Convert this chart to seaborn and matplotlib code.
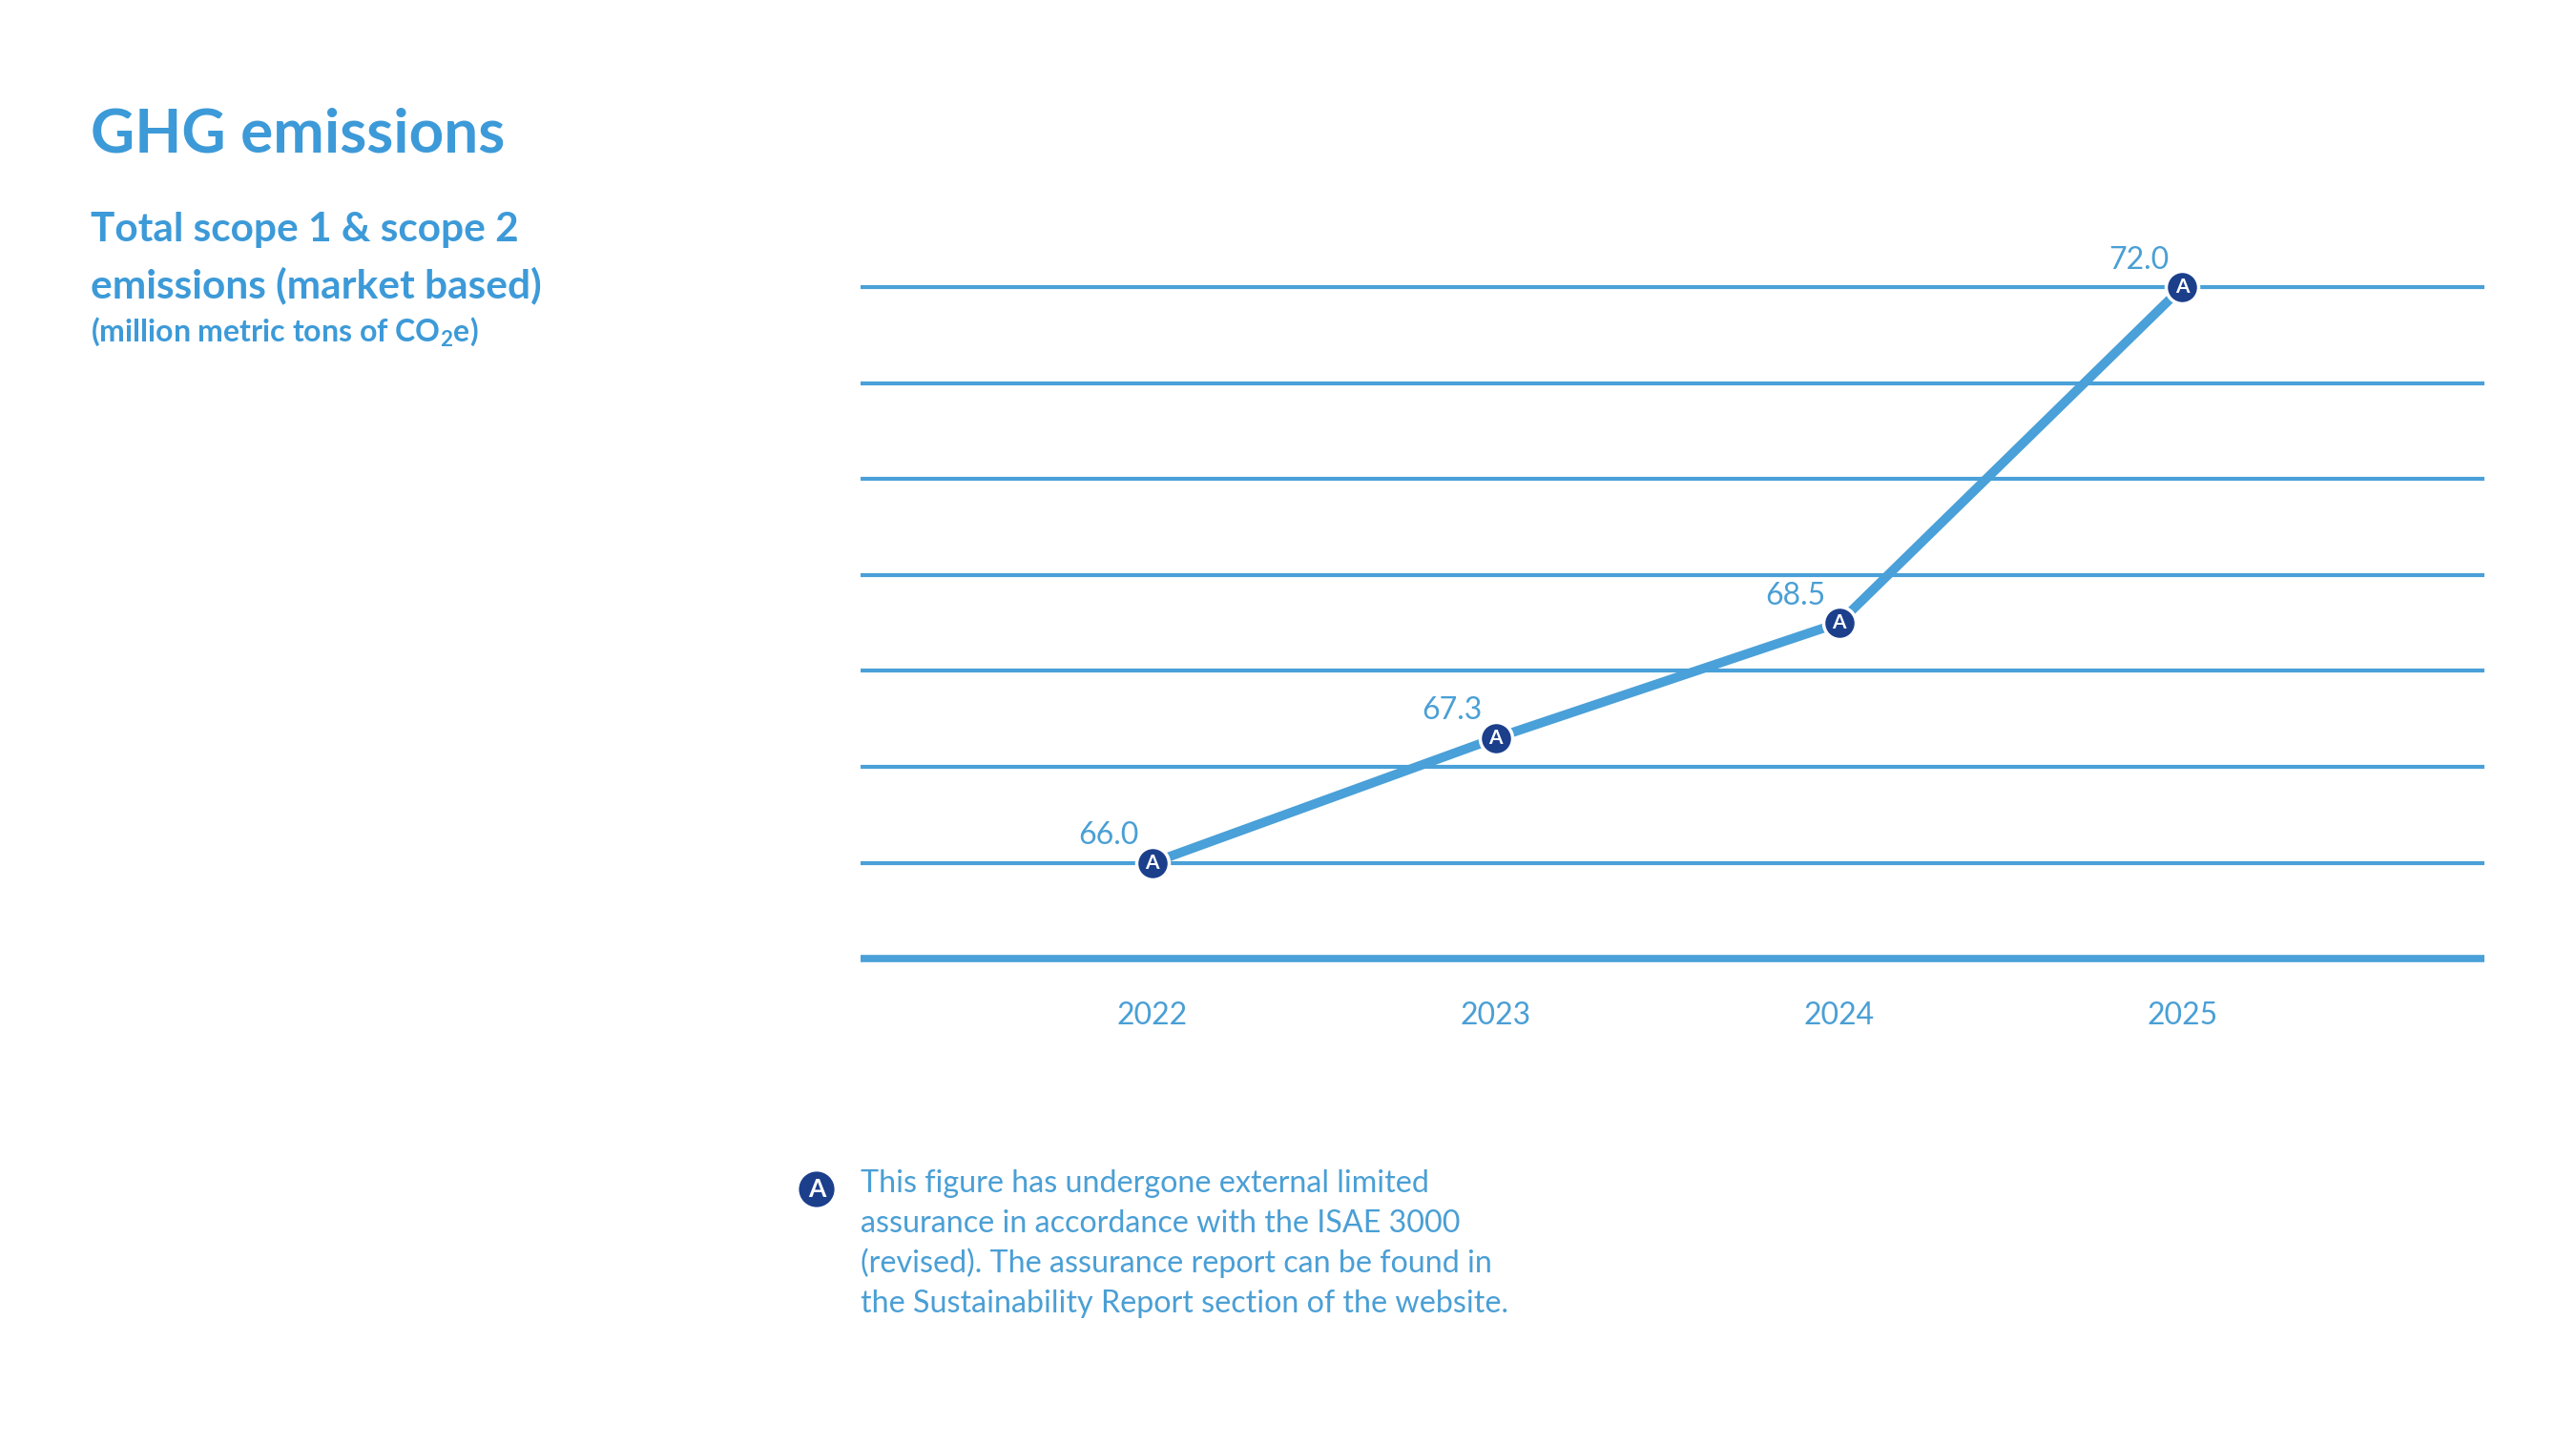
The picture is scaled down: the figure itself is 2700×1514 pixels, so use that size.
import numpy as np
import pandas as pd
import matplotlib.pyplot as plt
import seaborn as sns

# data
years = [2022, 2023, 2024, 2025]
emissions = [66.0, 67.3, 68.5, 72.0]
value_labels = ["66.0", "67.3", "68.5", "72.0"]
grid_values = [66, 67, 68, 69, 70, 71, 72]

title = "GHG emissions"
subtitle = ["Total scope 1 & scope 2", "emissions (market based)"]
unit = "(million metric tons of CO$_2$e)"
footnote = [
    "This figure has undergone external limited",
    "assurance in accordance with the ISAE 3000",
    "(revised). The assurance report can be found in",
    "the Sustainability Report section of the website.",
]

# colours
line_blue = "#4aa0d8"
text_blue = "#4a9fd5"
title_blue = "#3d9ad8"
navy = "#1c3f8c"

sns.set_theme(style="white")
plt.rcParams['font.family'] = ['Lato', 'DejaVu Sans']
plt.rcParams['mathtext.default'] = 'regular'

df = pd.DataFrame({'year': years, 'value': emissions})

W, H = 2700, 1514
fig = plt.figure(figsize=(27, 15.14), dpi=100)
fig.patch.set_facecolor('white')
ax = fig.add_axes([0.334, 0.336, 0.6305, 0.4785])

# horizontal grid lines + baseline
for g in grid_values:
    ax.axhline(g, color=line_blue, lw=3, zorder=1, solid_capstyle='butt')
ax.axhline(65, color=line_blue, lw=5.5, zorder=1, clip_on=False,
           solid_capstyle='butt')

sns.lineplot(data=df, x='year', y='value', ax=ax, color=line_blue, lw=7,
             zorder=3, solid_capstyle='butt')
sns.scatterplot(data=df, x='year', y='value', ax=ax, s=600, color=navy,
                edgecolor='white', linewidth=2.5, zorder=4, legend=False)

for x, y, lbl in zip(years, emissions, value_labels):
    ax.text(x, y, "A", color='white', fontsize=15, fontweight='bold',
            ha='center', va='center', zorder=5)
    ax.annotate(lbl, (x, y), xytext=(-10, 14), textcoords='offset points',
                ha='right', va='baseline', fontsize=23, color=text_blue)

ax.set_xlim(2021.15, 2025.88)
ax.set_ylim(65, 72.2)
ax.set_xticks(years)
ax.set_xticklabels([str(y) for y in years])
ax.set_yticks([])
ax.tick_params(axis='x', length=0, pad=32, labelsize=23, labelcolor=text_blue)
ax.set_xlabel('')
ax.set_ylabel('')
for s in ax.spines.values():
    s.set_visible(False)

# headings
fig.text(95 / W, 1 - 160 / H, title, fontsize=46, fontweight='bold',
         color=title_blue, va='baseline')
fig.text(95 / W, 1 - 253 / H, subtitle[0], fontsize=30.5, fontweight='bold',
         color=title_blue, va='baseline')
fig.text(95 / W, 1 - 312 / H, subtitle[1], fontsize=30.5, fontweight='bold',
         color=title_blue, va='baseline')
fig.text(95 / W, 1 - 358 / H, unit, fontsize=23, fontweight='bold',
         color=title_blue, va='baseline')

# footnote
fig.text(856 / W, 1 - 1247 / H, "A", fontsize=19, fontweight='bold',
         color='white', ha='center', va='center',
         bbox=dict(boxstyle='circle,pad=0.25', fc=navy, ec='none'))
for i, line in enumerate(footnote):
    fig.text(902 / W, 1 - (1250 + 42 * i) / H, line, fontsize=23.2,
             color=text_blue, va='baseline')

fig.savefig('out.png', dpi=100, facecolor='white')
